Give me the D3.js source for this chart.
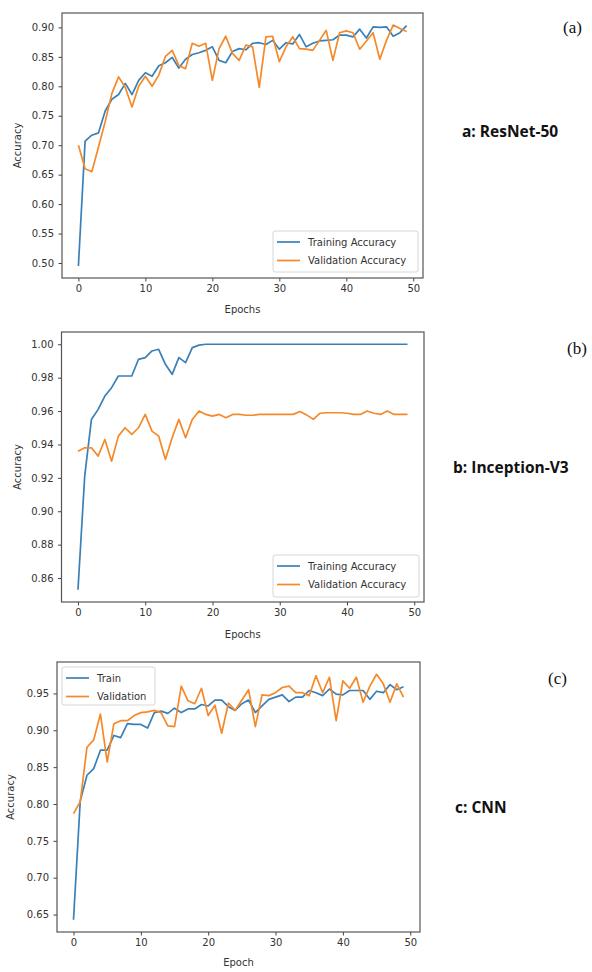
<!DOCTYPE html>
<html>
<head>
<meta charset="utf-8">
<script src="https://cdn.jsdelivr.net/npm/d3@7"></script>
<style>
  body { margin: 0; background: #fff; }
  svg { display: block; }
  .tick text { font-family: "DejaVu Sans", sans-serif; font-size: 10px; fill: #333; }
  .tick line { stroke: #444; }
</style>
</head>
<body>
<svg id="chart" width="592" height="972"></svg>
<script>
(function () {
  'use strict';

  const epochs = d3.range(50);
  const xTicks = [0, 10, 20, 30, 40, 50];

  // a: ResNet-50
  const resnetTrain = [0.495, 0.707, 0.717, 0.721, 0.758, 0.778, 0.786, 0.805, 0.786, 0.810,
    0.823, 0.817, 0.835, 0.840, 0.849, 0.831, 0.846, 0.854, 0.857, 0.861,
    0.867, 0.844, 0.840, 0.859, 0.864, 0.862, 0.873, 0.874, 0.871, 0.878,
    0.863, 0.874, 0.872, 0.888, 0.867, 0.873, 0.877, 0.878, 0.879, 0.887,
    0.887, 0.884, 0.897, 0.882, 0.901, 0.900, 0.901, 0.885, 0.891, 0.903];
  const resnetVal = [0.700, 0.660, 0.655, 0.697, 0.740, 0.788, 0.816, 0.798, 0.765, 0.800,
    0.817, 0.800, 0.819, 0.851, 0.861, 0.835, 0.830, 0.873, 0.868, 0.873,
    0.810, 0.864, 0.885, 0.856, 0.844, 0.870, 0.867, 0.798, 0.884, 0.885,
    0.842, 0.867, 0.884, 0.864, 0.863, 0.861, 0.878, 0.895, 0.844, 0.891,
    0.894, 0.891, 0.863, 0.877, 0.891, 0.846, 0.878, 0.904, 0.898, 0.893];
  const resnetTicks = [0.50, 0.55, 0.60, 0.65, 0.70, 0.75, 0.80, 0.85, 0.90];

  // b: Inception-V3
  const inceptionTrain = [0.853, 0.921, 0.955, 0.961, 0.969, 0.974, 0.981, 0.981, 0.981, 0.991,
    0.992, 0.996, 0.997, 0.988, 0.982, 0.992, 0.989, 0.998, 0.9995, 1.0,
    1.0, 1.0, 1.0, 1.0, 1.0, 1.0, 1.0, 1.0, 1.0, 1.0,
    1.0, 1.0, 1.0, 1.0, 1.0, 1.0, 1.0, 1.0, 1.0, 1.0,
    1.0, 1.0, 1.0, 1.0, 1.0, 1.0, 1.0, 1.0, 1.0, 1.0];
  const inceptionVal = [0.936, 0.938, 0.938, 0.933, 0.943, 0.930, 0.945, 0.950, 0.946, 0.950,
    0.958, 0.948, 0.945, 0.931, 0.944, 0.955, 0.944, 0.955, 0.960, 0.958,
    0.957, 0.958, 0.956, 0.958, 0.958, 0.9575, 0.9575, 0.958, 0.958, 0.958,
    0.958, 0.958, 0.958, 0.9597, 0.9577, 0.955, 0.9587, 0.959, 0.959, 0.959,
    0.9587, 0.958, 0.958, 0.960, 0.9587, 0.958, 0.960, 0.958, 0.958, 0.958];
  const inceptionTicks = [0.86, 0.88, 0.90, 0.92, 0.94, 0.96, 0.98, 1.00];

  // c: CNN
  const cnnTrain = [0.643, 0.804, 0.839, 0.848, 0.873, 0.873, 0.893, 0.890, 0.909, 0.908,
    0.908, 0.903, 0.924, 0.926, 0.923, 0.930, 0.924, 0.929, 0.929, 0.935,
    0.933, 0.941, 0.941, 0.932, 0.927, 0.936, 0.941, 0.924, 0.933, 0.942,
    0.945, 0.948, 0.939, 0.945, 0.945, 0.954, 0.951, 0.947, 0.956, 0.949,
    0.948, 0.954, 0.954, 0.954, 0.942, 0.953, 0.951, 0.962, 0.955, 0.959];
  const cnnVal = [0.787, 0.803, 0.877, 0.887, 0.922, 0.857, 0.909, 0.913, 0.913, 0.920,
    0.924, 0.925, 0.927, 0.924, 0.906, 0.905, 0.960, 0.940, 0.936, 0.957,
    0.920, 0.934, 0.896, 0.937, 0.927, 0.941, 0.955, 0.905, 0.948, 0.947,
    0.951, 0.958, 0.960, 0.951, 0.951, 0.947, 0.974, 0.951, 0.972, 0.913,
    0.967, 0.957, 0.972, 0.938, 0.960, 0.976, 0.963, 0.938, 0.963, 0.945];
  const cnnTicks = [0.65, 0.70, 0.75, 0.80, 0.85, 0.90, 0.95];

  const BLUE = '#3a80b8';
  const ORANGE = '#f5892a';

  const svg = d3.select('#chart');

  function drawPanel(p) {
    const g = svg.append('g');
    const all = p.train.concat(p.val);
    const [lo, hi] = d3.extent(all);
    const pad = (hi - lo) * 0.05;

    const x = d3.scaleLinear().domain([-2.45, 51.45]).range([p.left, p.right]);
    const y = d3.scaleLinear().domain([lo - pad, hi + pad]).range([p.bottom, p.top]);

    g.append('g')
      .attr('transform', `translate(0,${p.bottom})`)
      .call(d3.axisBottom(x).tickValues(xTicks).tickSize(3.5).tickPadding(3.5).tickSizeOuter(0))
      .call(a => a.select('.domain').remove());
    g.append('g')
      .attr('transform', `translate(${p.left},0)`)
      .call(d3.axisLeft(y).tickValues(p.yTicks).tickFormat(d3.format('.2f'))
        .tickSize(3.5).tickPadding(4.5).tickSizeOuter(0))
      .call(a => a.select('.domain').remove());

    const line = d3.line().x((d, i) => x(epochs[i])).y(d => y(d));

    [[p.train, BLUE], [p.val, ORANGE]].forEach(([vals, col]) => {
      g.append('path').datum(vals)
        .attr('fill', 'none').attr('stroke', col).attr('stroke-width', 1.7)
        .attr('stroke-linejoin', 'round').attr('d', line);
    });

    g.append('rect')
      .attr('x', p.left).attr('y', p.top)
      .attr('width', p.right - p.left).attr('height', p.bottom - p.top)
      .attr('fill', 'none').attr('stroke', '#555').attr('stroke-width', 1.2);

    // legend
    const lg = p.legend;
    g.append('rect')
      .attr('x', lg.x).attr('y', lg.y).attr('width', lg.w).attr('height', lg.h)
      .attr('rx', 2).attr('fill', '#fff').attr('fill-opacity', 0.85)
      .attr('stroke', '#d6d6d6').attr('stroke-width', 1);
    p.names.forEach((name, i) => {
      const cy = lg.y + 11 + i * 18.5;
      g.append('line')
        .attr('x1', lg.x + 4).attr('x2', lg.x + 27).attr('y1', cy).attr('y2', cy)
        .attr('stroke', i === 0 ? BLUE : ORANGE).attr('stroke-width', 1.7);
      g.append('text')
        .attr('x', lg.x + 35).attr('y', cy + 3.6)
        .attr('font-family', '"DejaVu Sans", sans-serif').attr('font-size', 10)
        .attr('fill', '#333').text(name);
    });

    g.append('text')
      .attr('x', (p.left + p.right) / 2).attr('y', p.xLabelY)
      .attr('text-anchor', 'middle')
      .attr('font-family', '"DejaVu Sans", sans-serif').attr('font-size', 10)
      .attr('fill', '#333').text(p.xLabel);
    g.append('text')
      .attr('transform', `translate(${p.yLabelX},${(p.top + p.bottom) / 2}) rotate(-90)`)
      .attr('text-anchor', 'middle')
      .attr('font-family', '"DejaVu Sans", sans-serif').attr('font-size', 10)
      .attr('fill', '#333').text('Accuracy');

    g.append('text')
      .attr('x', p.tag.x).attr('y', p.tag.y)
      .attr('font-family', '"Liberation Serif", serif').attr('font-size', 17)
      .attr('fill', '#111').text(p.tag.text);
    g.append('text')
      .attr('x', p.model.x).attr('y', p.model.y)
      .attr('font-family', '"Open Sans", sans-serif').attr('font-weight', 'bold')
      .attr('font-size', 15.5).attr('fill', '#111').text(p.model.text);
  }

  drawPanel({
    train: resnetTrain, val: resnetVal, yTicks: resnetTicks,
    left: 62, right: 423, top: 13, bottom: 278,
    names: ['Training Accuracy', 'Validation Accuracy'],
    legend: { x: 273, y: 231, w: 145, h: 41 },
    xLabel: 'Epochs', xLabelY: 313, yLabelX: 21,
    tag: { x: 563, y: 33, text: '(a)' },
    model: { x: 462, y: 137, text: 'a: ResNet-50' }
  });
  drawPanel({
    train: inceptionTrain, val: inceptionVal, yTicks: inceptionTicks,
    left: 61.5, right: 424, top: 332, bottom: 602,
    names: ['Training Accuracy', 'Validation Accuracy'],
    legend: { x: 273, y: 555, w: 146, h: 42 },
    xLabel: 'Epochs', xLabelY: 638, yLabelX: 21,
    tag: { x: 567, y: 354, text: '(b)' },
    model: { x: 453, y: 473, text: 'b: Inception-V3' }
  });
  drawPanel({
    train: cnnTrain, val: cnnVal, yTicks: cnnTicks,
    left: 57, right: 420, top: 662, bottom: 932,
    names: ['Train', 'Validation'],
    legend: { x: 62, y: 667, w: 93, h: 38 },
    xLabel: 'Epoch', xLabelY: 966, yLabelX: 14,
    tag: { x: 548, y: 684, text: '(c)' },
    model: { x: 455, y: 813, text: 'c: CNN' }
  });
}());
</script>
</body>
</html>
